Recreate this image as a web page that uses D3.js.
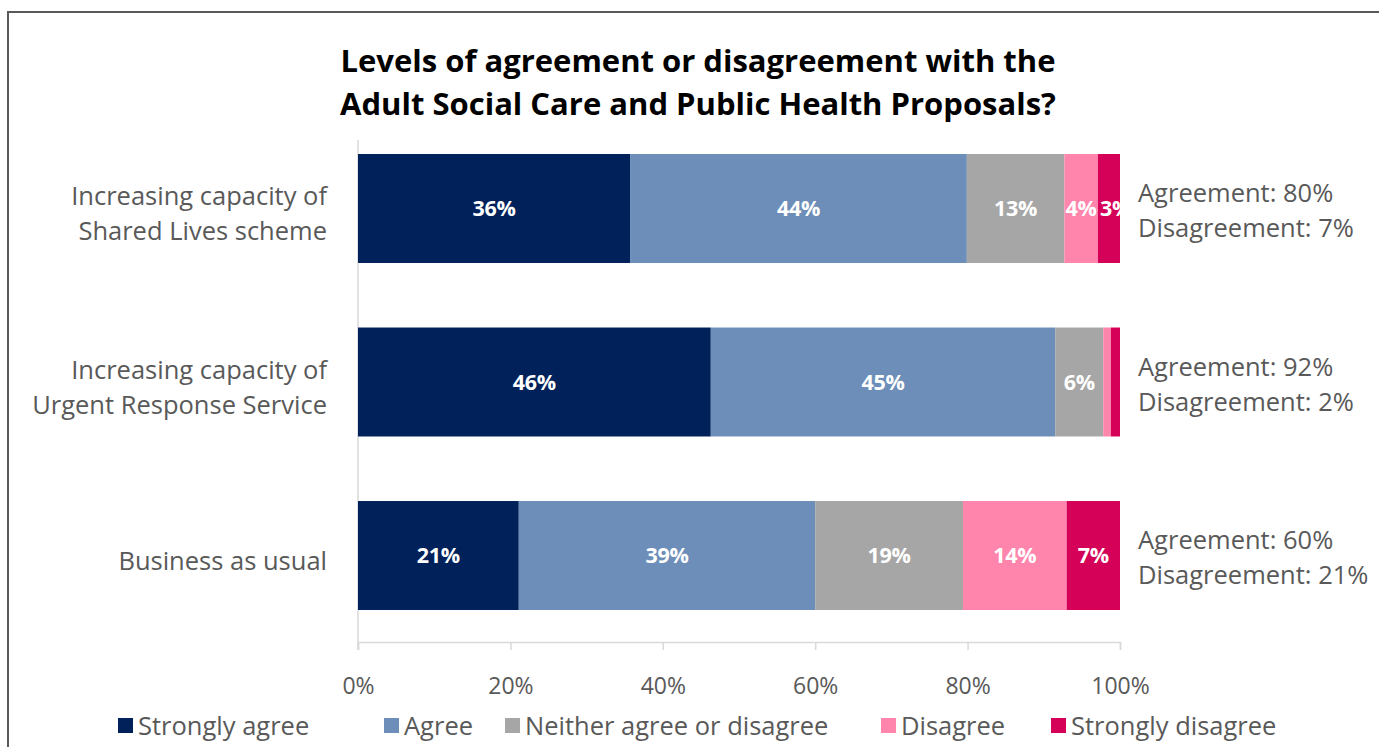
<!DOCTYPE html>
<html>
<head>
<meta charset="utf-8">
<script src="https://cdn.jsdelivr.net/npm/d3@7"></script>
<style>
  html, body { margin: 0; padding: 0; background: #fff; }
  svg { display: block; }
  text { font-family: "Open Sans", "Noto Sans", sans-serif; }
</style>
</head>
<body>
<svg id="chart" width="1379" height="747"></svg>
<script>
// Survey responses, percentages per proposal
const categories = [
  ["Increasing capacity of", "Shared Lives scheme"],
  ["Increasing capacity of", "Urgent Response Service"],
  ["Business as usual"]
];
const seriesNames = ["Strongly agree", "Agree", "Neither agree or disagree", "Disagree", "Strongly disagree"];
const seriesColors = ["#00215A", "#6C8EB8", "#A6A6A6", "#FF85AD", "#D50057"];
const stronglyAgree = [35.7, 46.3, 21.1];
const agree = [44.2, 45.2, 38.9];
const neither = [12.8, 6.3, 19.4];
const disagree = [4.4, 1.0, 13.6];
const stronglyDisagree = [2.9, 1.2, 7.0];
// Labels drawn on each segment (null where the segment is too thin)
const segmentLabels = [
  ["36%", "44%", "13%", "4%", "3%"],
  ["46%", "45%", "6%", null, null],
  ["21%", "39%", "19%", "14%", "7%"]
];
const agreementText = ["Agreement: 80%", "Agreement: 92%", "Agreement: 60%"];
const disagreementText = ["Disagreement: 7%", "Disagreement: 2%", "Disagreement: 21%"];
const tickValues = [0, 20, 40, 60, 80, 100];

const title = ["Levels of agreement or disagreement with the", "Adult Social Care and Public Health Proposals?"];

const svg = d3.select("#chart");
const W = 1379, H = 747;

// Outer frame
svg.append("rect")
  .attr("x", 8).attr("y", 12)
  .attr("width", W + 20).attr("height", H + 20)
  .attr("fill", "none").attr("stroke", "#595959").attr("stroke-width", 2);

// Title
svg.append("g").selectAll("text").data(title).join("text")
  .attr("x", 698).attr("y", (d, i) => 72 + i * 43)
  .attr("text-anchor", "middle")
  .attr("font-size", 31).attr("font-weight", 700).attr("fill", "#000")
  .text(d => d);

const margin = { left: 358, right: 1120, bottom: 642 };
const x = d3.scaleLinear().domain([0, 100]).range([margin.left, margin.right]);
const y = d3.scaleBand().domain(d3.range(categories.length))
  .range([141, 623]).paddingInner(0.372).paddingOuter(0.075);

const rows = categories.map((c, i) => ({
  values: [stronglyAgree[i], agree[i], neither[i], disagree[i], stronglyDisagree[i]]
}));

svg.append("clipPath").attr("id", "plotClip")
  .append("rect").attr("x", x(0)).attr("y", 130).attr("width", x(100) - x(0)).attr("height", 520);

// Vertical category axis line
svg.append("line")
  .attr("x1", x(0)).attr("x2", x(0)).attr("y1", 140).attr("y2", 650)
  .attr("stroke", "#D9D9D9").attr("stroke-width", 1.5);

// Bars
const barG = svg.append("g");
rows.forEach((r, i) => {
  let cum = 0;
  const segs = r.values.map((v, j) => {
    const s = { x0: cum, x1: cum + v, j, label: segmentLabels[i][j] };
    cum += v;
    return s;
  });
  const g = barG.append("g");
  g.selectAll("rect").data(segs).join("rect")
    .attr("x", d => x(d.x0)).attr("width", d => x(d.x1) - x(d.x0))
    .attr("y", y(i)).attr("height", y.bandwidth())
    .attr("fill", d => seriesColors[d.j]);
  const labels = g.append("g").attr("clip-path", "url(#plotClip)")
    .selectAll("text").data(segs.filter(d => d.label)).join("text")
    .attr("x", d => x((d.x0 + d.x1) / 2))
    .attr("y", y(i) + y.bandwidth() / 2)
    .attr("dy", "0.36em")
    .attr("text-anchor", "middle")
    .attr("font-size", 21.5).attr("font-weight", 700).attr("fill", "#fff")
    .attr("letter-spacing", -0.3)
    .text(d => d.label);
  // Labels wider than their segment start at the segment's left edge
  labels.each(function (d) {
    const w = this.getComputedTextLength();
    if (w > x(d.x1) - x(d.x0)) {
      d3.select(this).attr("text-anchor", "start").attr("x", x(d.x0) + 2);
    }
  });

  // Category labels
  const lines = categories[i];
  const cy = y(i) + y.bandwidth() / 2;
  svg.append("g").selectAll("text").data(lines).join("text")
    .attr("x", 327).attr("y", (d, k) => cy + 5 + (k - (lines.length - 1) / 2) * 35)
    .attr("dy", "0.36em").attr("text-anchor", "end")
    .attr("font-size", 25.5).attr("fill", "#595959")
    .text(d => d);

  // Agreement / disagreement summary
  svg.append("g").selectAll("text").data([agreementText[i], disagreementText[i]]).join("text")
    .attr("x", 1138).attr("y", (d, k) => cy + 2 + (k - 0.5) * 35)
    .attr("dy", "0.36em").attr("text-anchor", "start")
    .attr("font-size", 25.5).attr("fill", "#595959")
    .text(d => d);
});

// Value axis
const xAxis = d3.axisBottom(x).tickValues(tickValues).tickFormat(d => d + "%").tickSize(8).tickPadding(28);
const axG = svg.append("g").attr("transform", `translate(0,${margin.bottom})`).call(xAxis);
axG.select(".domain").attr("stroke", "#D9D9D9").attr("stroke-width", 1.5);
axG.selectAll(".tick line").attr("stroke", "#D9D9D9").attr("stroke-width", 1.5);
axG.selectAll(".tick text").attr("font-size", 23).attr("fill", "#595959")
  .attr("font-family", "'Open Sans', 'Noto Sans', sans-serif");

// Legend
const legendX = [118, 384, 505, 881, 1051];
const lg = svg.append("g");
seriesNames.forEach((n, j) => {
  lg.append("rect").attr("x", legendX[j]).attr("y", 718).attr("width", 15).attr("height", 15)
    .attr("fill", seriesColors[j]);
  lg.append("text").attr("x", legendX[j] + 20).attr("y", 726).attr("dy", "0.36em")
    .attr("font-size", 25.5).attr("fill", "#595959").text(n);
});
</script>
</body>
</html>
